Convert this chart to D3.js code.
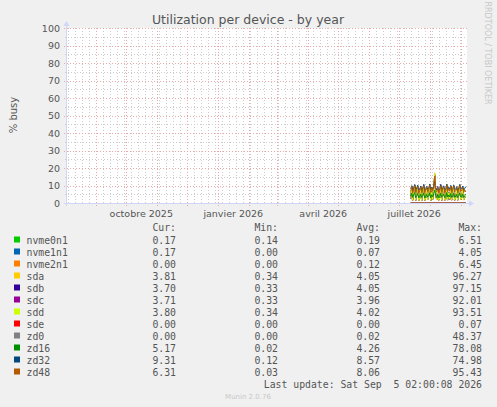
<!DOCTYPE html>
<meta charset="utf-8">
<style>
body { margin: 0; padding: 0; background: #f0f0f0; }
svg { display: block; }
text { font-family: "DejaVu Sans", sans-serif; fill: #555; }
.mono { font-family: "DejaVu Sans Mono", monospace; font-size: 9.8px; }
</style>
<body>
<script src="https://cdnjs.cloudflare.com/ajax/libs/d3/7.8.5/d3.min.js"></script>
<script>

var devices = ["nvme0n1", "nvme1n1", "nvme2n1", "sda", "sdb", "sdc", "sdd", "sde", "zd0", "zd16", "zd32", "zd48"];
var colors = ["#00cc00", "#0066b3", "#ff8000", "#ffcc00", "#330099", "#990099", "#ccff00", "#ff0000", "#808080", "#008f00", "#00487d", "#b35a00"];
var curVals = ["0.17", "0.17", "0.00", "3.81", "3.70", "3.71", "3.80", "0.00", "0.00", "5.17", "9.31", "6.31"];
var minVals = ["0.14", "0.00", "0.00", "0.34", "0.33", "0.33", "0.34", "0.00", "0.00", "0.02", "0.12", "0.03"];
var avgVals = ["0.19", "0.07", "0.12", "4.05", "4.05", "3.96", "4.02", "0.00", "0.02", "4.26", "8.57", "8.06"];
var maxVals = ["6.51", "4.05", "6.45", "96.27", "97.15", "92.01", "93.51", "0.07", "48.37", "78.08", "74.98", "95.43"];

var yTicks = [0, 10, 20, 30, 40, 50, 60, 70, 80, 90, 100];
var xLabels = ["octobre 2025", "janvier 2026", "avril 2026", "juillet 2026"];
var xLabelDates = [new Date(2025, 9, 16), new Date(2026, 0, 16), new Date(2026, 3, 16), new Date(2026, 6, 16)];

// daily averages, first day 12 Jul 2026, last day 5 Sep 2026
var firstDay = new Date(2026, 6, 12, 12);
var series = {
  nvme0n1: [0.18,0.21,0.17,0.20,0.22,0.16,0.19,0.21,0.17,0.18,0.20,0.16,0.19,0.22,0.17,0.18,0.20,0.17,0.19,0.23,0.16,0.20,0.18,0.21,0.35,0.19,0.17,0.20,0.16,0.18,0.22,0.17,0.19,0.21,0.16,0.18,0.22,0.17,0.20,0.18,0.21,0.16,0.19,0.21,0.17,0.18,0.20,0.16,0.19,0.22,0.17,0.18,0.20,0.16,0.19,0.17],
  nvme1n1: [0.06,0.08,0.05,0.07,0.09,0.05,0.06,0.08,0.05,0.06,0.07,0.05,0.07,0.09,0.05,0.06,0.08,0.05,0.07,0.09,0.05,0.07,0.06,0.08,0.15,0.06,0.05,0.07,0.05,0.06,0.08,0.05,0.07,0.08,0.05,0.06,0.09,0.05,0.07,0.06,0.08,0.05,0.06,0.08,0.05,0.06,0.07,0.05,0.07,0.09,0.05,0.06,0.08,0.05,0.06,0.17],
  nvme2n1: [0.10,0.14,0.09,0.12,0.15,0.09,0.11,0.14,0.09,0.10,0.13,0.09,0.12,0.15,0.09,0.11,0.13,0.10,0.12,0.16,0.09,0.12,0.10,0.14,0.28,0.11,0.09,0.13,0.09,0.10,0.14,0.09,0.12,0.13,0.09,0.10,0.15,0.10,0.12,0.10,0.14,0.09,0.11,0.14,0.09,0.10,0.13,0.09,0.12,0.15,0.10,0.11,0.13,0.09,0.11,0.00],
  sda: [2.6,9.2,1.4,7.5,10.3,1.6,4.8,9.6,1.2,2.9,8.4,1.5,5.1,10.1,1.3,3.2,8.7,1.8,4.4,10.6,1.5,6.4,2.2,9.4,17.2,4.2,1.7,8.1,1.4,3.0,10.2,1.6,4.6,8.8,1.3,2.7,10.9,1.9,5.8,2.3,9.3,1.5,3.6,9.8,1.7,3.1,7.4,1.4,4.9,10.4,2.0,2.8,8.5,1.6,3.5,3.8],
  sdb: [2.3,9.6,1.7,6.9,9.9,1.4,5.2,8.9,1.5,2.6,8.8,1.2,4.8,10.5,1.6,3.0,8.1,2.1,4.1,10.2,1.3,6.8,2.0,9.0,16.3,3.9,2.0,7.7,1.7,2.8,10.6,1.4,4.9,8.4,1.6,2.4,10.4,1.6,6.1,2.0,9.6,1.8,3.3,9.3,1.5,3.4,7.8,1.7,4.5,9.9,1.7,3.1,8.1,1.9,3.2,3.7],
  sdc: [2.4,8.9,1.5,7.1,10.1,1.5,4.6,9.2,1.3,2.8,8.5,1.4,4.9,9.8,1.4,3.1,8.3,1.9,4.2,10.3,1.4,6.2,2.1,9.1,15.8,4.0,1.8,7.9,1.5,2.9,9.9,1.5,4.7,8.6,1.4,2.6,10.6,1.7,5.6,2.1,8.9,1.6,3.4,9.5,1.6,3.2,7.6,1.5,4.7,10.1,1.8,2.9,8.3,1.7,3.3,3.7],
  sdd: [2.5,9.0,1.6,7.3,10.2,1.5,4.9,9.4,1.4,2.8,8.6,1.3,5.0,10.3,1.5,3.1,8.5,1.8,4.3,10.4,1.4,6.5,2.0,9.2,16.6,4.1,1.7,8.0,1.6,2.9,10.3,1.5,4.8,8.7,1.5,2.5,10.7,1.8,5.9,2.2,9.4,1.7,3.5,9.6,1.6,3.3,7.5,1.6,4.8,10.2,1.9,2.9,8.4,1.7,3.4,3.8],
  sde: [0.00,0.00,0.00,0.00,0.00,0.00,0.00,0.00,0.00,0.00,0.00,0.00,0.00,0.00,0.00,0.00,0.00,0.00,0.00,0.00,0.00,0.00,0.00,0.00,0.01,0.00,0.00,0.00,0.00,0.00,0.00,0.00,0.00,0.00,0.00,0.00,0.00,0.00,0.00,0.00,0.00,0.00,0.00,0.00,0.00,0.00,0.00,0.00,0.00,0.00,0.00,0.00,0.00,0.00,0.00,0.00],
  zd0: [0.02,0.03,0.01,0.02,0.03,0.01,0.02,0.03,0.01,0.02,0.02,0.01,0.02,0.03,0.01,0.02,0.02,0.01,0.02,0.03,0.01,0.02,0.02,0.03,0.09,0.02,0.01,0.02,0.01,0.02,0.03,0.01,0.02,0.02,0.01,0.02,0.03,0.01,0.02,0.02,0.03,0.01,0.02,0.03,0.01,0.02,0.02,0.01,0.02,0.03,0.01,0.02,0.02,0.01,0.02,0.00],
  zd16: [3.9,5.6,3.2,4.9,5.9,3.0,4.2,5.4,2.9,3.7,5.1,3.1,4.4,5.7,2.8,3.9,4.9,3.3,4.3,5.8,3.0,4.7,3.5,5.3,7.4,4.2,3.1,5.0,2.9,3.8,5.6,3.2,4.4,5.1,3.0,3.7,5.9,3.4,4.6,3.5,5.4,3.1,4.1,5.5,3.2,3.9,4.9,3.0,4.4,5.7,3.4,3.7,5.0,3.1,4.2,5.2],
  zd32: [8.2,9.9,7.2,8.9,10.6,7.5,8.6,10.2,7.0,8.0,9.7,7.4,8.8,10.5,7.1,8.2,9.5,7.6,8.5,10.8,7.3,9.1,7.8,10.0,12.3,8.6,7.4,9.5,7.2,8.1,10.4,7.5,8.7,9.8,7.3,8.0,10.7,7.6,9.0,7.8,10.1,7.4,8.3,10.3,7.5,8.2,9.4,7.2,8.6,10.6,7.8,8.1,9.7,7.4,8.4,9.3],
  zd48: [6.6,9.5,5.8,8.4,10.0,6.1,7.7,9.6,5.7,7.0,9.1,6.0,8.0,9.9,5.9,7.4,8.9,6.4,7.8,10.2,6.0,8.6,6.9,9.4,15.4,7.6,6.2,8.9,5.8,7.1,9.8,6.1,8.1,9.2,5.9,7.0,10.1,6.5,8.3,6.8,9.7,6.0,7.6,9.8,6.3,7.2,8.7,5.9,7.9,10.0,6.6,7.1,9.0,6.1,7.5,6.3]
};

var width = 497, height = 407;
var plot = { left: 67, right: 467, top: 28, bottom: 203 };

var svg = d3.select("body").append("svg")
    .attr("width", width)
    .attr("height", height);

svg.append("rect").attr("width", width).attr("height", height).attr("fill", "#f0f0f0");

// 400 days window ending a little after last update
var x = d3.scaleTime()
    .domain([new Date(2025, 7, 2, 18), new Date(2026, 8, 6, 18)])
    .range([plot.left, plot.right]);
var y = d3.scaleLinear().domain([0, 100]).range([plot.bottom, plot.top]);

svg.append("rect")
    .attr("x", plot.left).attr("y", plot.top)
    .attr("width", plot.right - plot.left).attr("height", plot.bottom - plot.top)
    .attr("fill", "#fff");

var grid = svg.append("g").attr("shape-rendering", "crispEdges");

// minor grid: weeks and every 5 %
grid.selectAll(".wk").data(d3.timeMonday.range(x.domain()[0], x.domain()[1]))
  .enter().append("line")
    .attr("x1", d => Math.round(x(d)) + 0.5).attr("x2", d => Math.round(x(d)) + 0.5)
    .attr("y1", plot.top).attr("y2", plot.bottom + 2)
    .attr("stroke", "#cccccc").attr("stroke-dasharray", "1,2");
grid.selectAll(".h5").data(d3.range(5, 100, 10))
  .enter().append("line")
    .attr("x1", plot.left - 2).attr("x2", plot.right)
    .attr("y1", d => Math.round(y(d)) + 0.5).attr("y2", d => Math.round(y(d)) + 0.5)
    .attr("stroke", "#cccccc").attr("stroke-dasharray", "1,2");

// major grid: months and every 10 %
grid.selectAll(".mo").data(d3.timeMonth.range(x.domain()[0], x.domain()[1]))
  .enter().append("line")
    .attr("x1", d => Math.round(x(d)) + 0.5).attr("x2", d => Math.round(x(d)) + 0.5)
    .attr("y1", plot.top).attr("y2", plot.bottom + 3)
    .attr("stroke", "#eba8a8").attr("stroke-dasharray", "1,2");
grid.selectAll(".h10").data(yTicks.slice(1))
  .enter().append("line")
    .attr("x1", plot.left - 3).attr("x2", plot.right)
    .attr("y1", d => Math.round(y(d)) + 0.5).attr("y2", d => Math.round(y(d)) + 0.5)
    .attr("stroke", "#eba8a8").attr("stroke-dasharray", "1,2");

// y labels
svg.selectAll(".yl").data(yTicks)
  .enter().append("text")
    .attr("x", 60).attr("y", d => y(d) + 3.5)
    .attr("text-anchor", "end")
    .style("font-size", "9.5px")
    .text(d => d);

// x labels
svg.selectAll(".xl").data(xLabels)
  .enter().append("text")
    .attr("x", (d, i) => x(xLabelDates[i])).attr("y", 217)
    .attr("text-anchor", "middle")
    .style("font-size", "9.5px")
    .text(d => d);

// series lines
var days = d3.range(series.sda.length).map(i => d3.timeDay.offset(firstDay, i));
var line = d3.line()
    .x((d, i) => x(days[i]))
    .y(d => y(d));
devices.forEach(function(dev, k) {
  svg.append("path")
      .datum(series[dev])
      .attr("fill", "none")
      .attr("stroke", colors[k])
      .attr("stroke-width", 1)
      .attr("d", line);
});

// axes and arrows
svg.append("line")
    .attr("x1", plot.left - 3).attr("x2", plot.right + 3)
    .attr("y1", plot.bottom + 0.5).attr("y2", plot.bottom + 0.5)
    .attr("stroke", "#cfd6f8").attr("shape-rendering", "crispEdges");
svg.append("line")
    .attr("x1", plot.left - 0.5).attr("x2", plot.left - 0.5)
    .attr("y1", plot.bottom + 3).attr("y2", plot.top - 3)
    .attr("stroke", "#cfd6f8").attr("shape-rendering", "crispEdges");
svg.append("path")
    .attr("d", "M" + (plot.right + 2) + "," + (plot.bottom - 2.5) + "l5,3l-5,3z")
    .attr("fill", "#cfd6f8");
svg.append("path")
    .attr("d", "M" + (plot.left - 3.5) + "," + (plot.top - 2) + "l3,-5l3,5z")
    .attr("fill", "#cfd6f8");

// title and labels
svg.append("text")
    .attr("x", 248).attr("y", 24)
    .attr("text-anchor", "middle")
    .style("font-size", "12.5px")
    .text("Utilization per device - by year");

svg.append("text")
    .attr("transform", "translate(17,115) rotate(-90)")
    .attr("text-anchor", "middle")
    .style("font-size", "10px")
    .text("% busy");

svg.append("text")
    .attr("transform", "translate(485,53) rotate(90)")
    .attr("text-anchor", "middle")
    .style("font-size", "8px")
    .style("fill", "#c8c8c8")
    .text("RRDTOOL / TOBI OETIKER");

// legend
var cols = [176, 278, 380, 482];
var heads = ["Cur:", "Min:", "Avg:", "Max:"];
heads.forEach(function(h, i) {
  svg.append("text").attr("class", "mono")
      .attr("x", cols[i]).attr("y", 231)
      .attr("text-anchor", "end").text(h);
});

var rows = svg.selectAll(".row").data(devices)
  .enter().append("g")
    .attr("transform", (d, i) => "translate(0," + (240 + i * 12) + ")");
rows.append("rect")
    .attr("x", 14).attr("y", -3.5)
    .attr("width", 6).attr("height", 6)
    .attr("fill", (d, i) => colors[i]);
rows.append("text").attr("class", "mono")
    .attr("x", 26.5).attr("y", 3.5).text(d => d);
[curVals, minVals, avgVals, maxVals].forEach(function(vals, c) {
  rows.append("text").attr("class", "mono")
      .attr("x", cols[c]).attr("y", 3.5)
      .attr("text-anchor", "end")
      .text((d, i) => vals[i]);
});

svg.append("text").attr("class", "mono")
    .attr("x", 482).attr("y", 387.5)
    .attr("text-anchor", "end")
    .style("white-space", "pre")
    .text("Last update: Sat Sep  5 02:00:08 2026");

svg.append("text")
    .attr("x", 248).attr("y", 398.5)
    .attr("text-anchor", "middle")
    .style("font-size", "7px")
    .style("fill", "#c8c8c8")
    .text("Munin 2.0.76");

</script>
